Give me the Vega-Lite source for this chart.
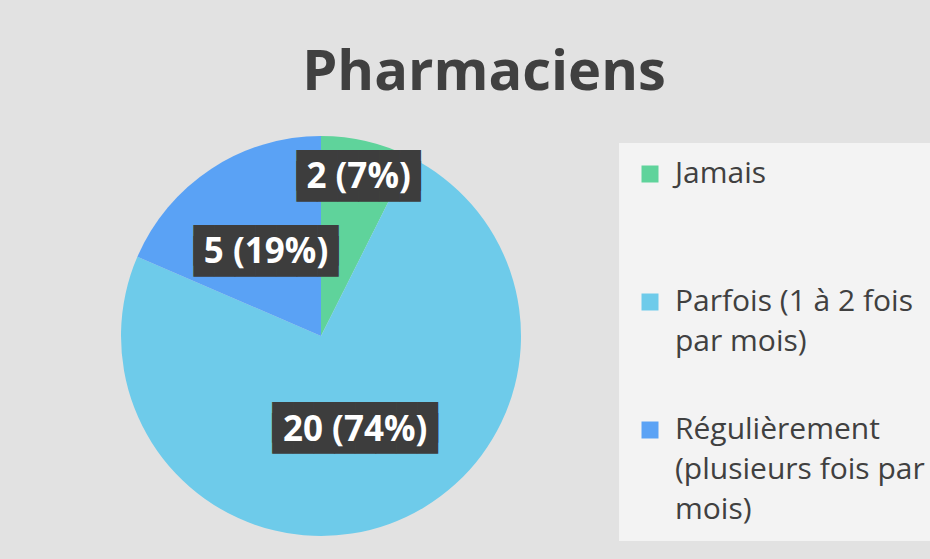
{
  "$schema": "https://vega.github.io/schema/vega-lite/v6.json",
  "width": 400,
  "height": 400,
  "autosize": {"type": "none"},
  "padding": {"left": 121, "top": 136, "right": 409, "bottom": 23},
  "background": "#e2e2e2",
  "title": {
    "text": "Pharmaciens",
    "font": "Open Sans",
    "fontSize": 56,
    "fontWeight": "bold",
    "color": "#404040",
    "anchor": "middle",
    "frame": "group",
    "dx": 163,
    "offset": 34
  },
  "data": {
    "values": [
      {"category": "Jamais", "value": 2},
      {"category": "Parfois (1 à 2 fois par mois)", "value": 20},
      {"category": "Régulièrement (plusieurs fois par mois)", "value": 5}
    ]
  },
  "transform": [
    {"joinaggregate": [{"op": "sum", "field": "value", "as": "total"}]},
    {"calculate": "datum.value + ' (' + round(datum.value / datum.total * 100) + '%)'", "as": "label"},
    {"calculate": "pad('', length(datum.label), '█')", "as": "box"}
  ],
  "encoding": {
    "theta": {"field": "value", "type": "quantitative", "stack": true},
    "order": {"field": "category", "type": "nominal", "sort": "ascending"}
  },
  "layer": [
    {
      "mark": {"type": "arc", "stroke": null},
      "encoding": {
        "color": {
          "field": "category",
          "type": "nominal",
          "scale": {
            "domain": ["Jamais", "Parfois (1 à 2 fois par mois)", "Régulièrement (plusieurs fois par mois)"],
            "range": ["#5fd39b", "#6ecbea", "#5aa2f5"]
          },
          "legend": {
            "title": null,
            "orient": "none",
            "legendX": 498,
            "legendY": 7,
            "symbolType": "square",
            "symbolSize": 289,
            "symbolStrokeWidth": 0,
            "labelFont": "Open Sans",
            "labelFontSize": 30,
            "labelColor": "#404040",
            "labelOffset": 10,
            "labelLimit": 500,
            "padding": 16,
            "fillColor": "#f3f3f3",
            "gridAlign": "all",
            "rowPadding": 18,
            "labelExpr": "datum.label == 'Jamais' ? 'Jamais' : datum.label == 'Parfois (1 à 2 fois par mois)' ? ['Parfois (1 à 2 fois', 'par mois)'] : ['Régulièrement', '(plusieurs fois par', 'mois)']",
            "encoding": {"labels": {"lineHeight": {"value": 40}}}
          }
        }
      }
    },
    {
      "mark": {
        "type": "text",
        "font": "DejaVu Sans Mono",
        "fontSize": 34.3,
        "fill": "#3d3d3d",
        "dy": -5.5,
        "radius": {"expr": "datum.category == 'Jamais' ? 163 : 100"}
      },
      "encoding": {
        "detail": {"field": "category", "type": "nominal"},
        "text": {"field": "box", "type": "nominal"}
      }
    },
    {
      "mark": {
        "type": "text",
        "font": "DejaVu Sans Mono",
        "fontSize": 34.3,
        "fill": "#3d3d3d",
        "dy": 5.5,
        "radius": {"expr": "datum.category == 'Jamais' ? 163 : 100"}
      },
      "encoding": {
        "detail": {"field": "category", "type": "nominal"},
        "text": {"field": "box", "type": "nominal"}
      }
    },
    {
      "mark": {
        "type": "text",
        "font": "Open Sans",
        "fontSize": 35,
        "fontWeight": "bold",
        "fill": "#ffffff",
        "radius": {"expr": "datum.category == 'Jamais' ? 163 : 100"}
      },
      "encoding": {
        "detail": {"field": "category", "type": "nominal"},
        "text": {"field": "label", "type": "nominal"}
      }
    }
  ],
  "config": {"view": {"stroke": null}}
}
